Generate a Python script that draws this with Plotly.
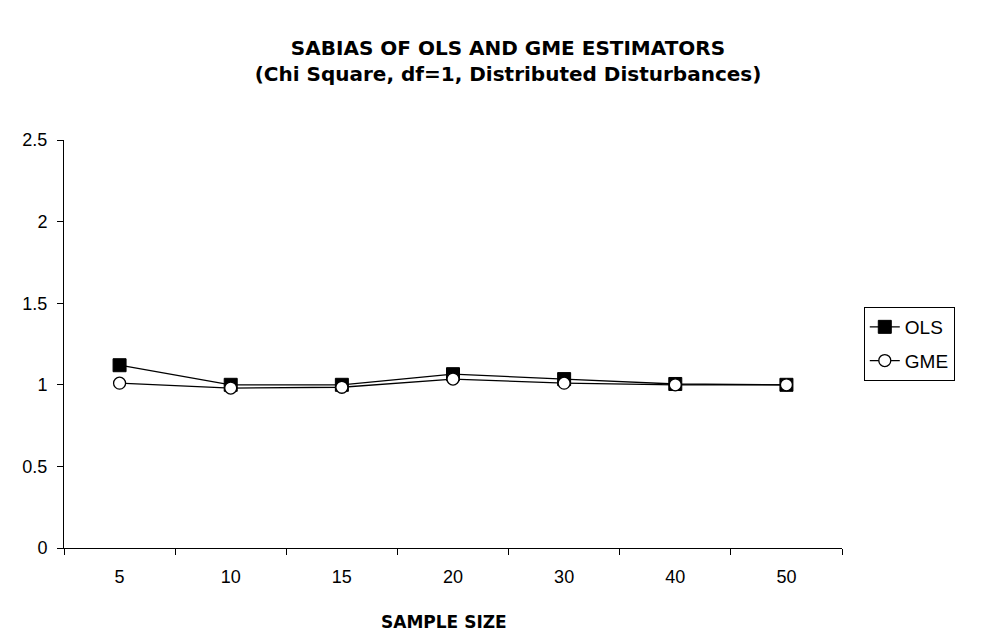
import plotly.graph_objects as go

sample_sizes = ["5", "10", "15", "20", "30", "40", "50"]
ols_values = [1.12, 1.00, 1.00, 1.065, 1.035, 1.005, 1.00]
gme_values = [1.01, 0.98, 0.985, 1.035, 1.01, 1.00, 1.00]

fig = go.Figure()
fig.add_trace(go.Scatter(
    x=sample_sizes, y=ols_values, name="OLS", mode="lines+markers",
    legendgroup="ols",
    line=dict(color="black", width=1.3),
    marker=dict(symbol="square", size=13, color="black", line=dict(color="black", width=1)),
))
fig.add_trace(go.Scatter(
    x=sample_sizes, y=gme_values, name="GME", mode="lines+markers",
    legendgroup="gme",
    line=dict(color="black", width=1.3),
    marker=dict(symbol="circle", size=12, color="white", line=dict(color="black", width=1.3)),
))

body_font = "Liberation Sans, Arial, sans-serif"
bold_font = "DejaVu Sans, Verdana, sans-serif"
fig.update_layout(
    width=990, height=637,
    paper_bgcolor="white", plot_bgcolor="white",
    margin=dict(l=64, r=148, t=140, b=89),
    title=dict(
        text="<b>SABIAS OF OLS AND GME ESTIMATORS<br>(Chi Square, df=1, Distributed Disturbances)</b>",
        x=508 / 990, xanchor="center", xref="container", y=1 - 55 / 637, yanchor="middle",
        font=dict(family=bold_font, size=20, color="black"),
    ),
    font=dict(family=body_font, size=18, color="black"),
    showlegend=True,
    legend=dict(
        x=1.028, xanchor="left", y=0.5, yanchor="middle", xref="paper", yref="paper",
        bordercolor="black", borderwidth=1, bgcolor="white",
        font=dict(family=body_font, size=19, color="black"),
        traceorder="grouped", tracegroupgap=6,
    ),
    annotations=[dict(
        text="<b>SAMPLE SIZE</b>", xref="paper", yref="paper",
        x=(444 - 64) / 778, y=-(622 - 548) / 408, xanchor="center", yanchor="middle",
        showarrow=False, font=dict(family=bold_font, size=17, color="black"),
    )],
)
fig.update_xaxes(
    type="category", range=[-0.5, 6.5],
    showline=True, linecolor="black", linewidth=1,
    ticks="outside", tickson="boundaries", ticklen=6, tickcolor="black",
    ticklabelstandoff=12,
    showgrid=False, zeroline=False,
)
fig.update_yaxes(
    range=[0, 2.5], dtick=0.5,
    showline=True, linecolor="black", linewidth=1,
    ticks="outside", ticklen=6, tickcolor="black",
    ticklabelstandoff=6,
    showgrid=False, zeroline=False,
)

fig.write_html("out.html")
